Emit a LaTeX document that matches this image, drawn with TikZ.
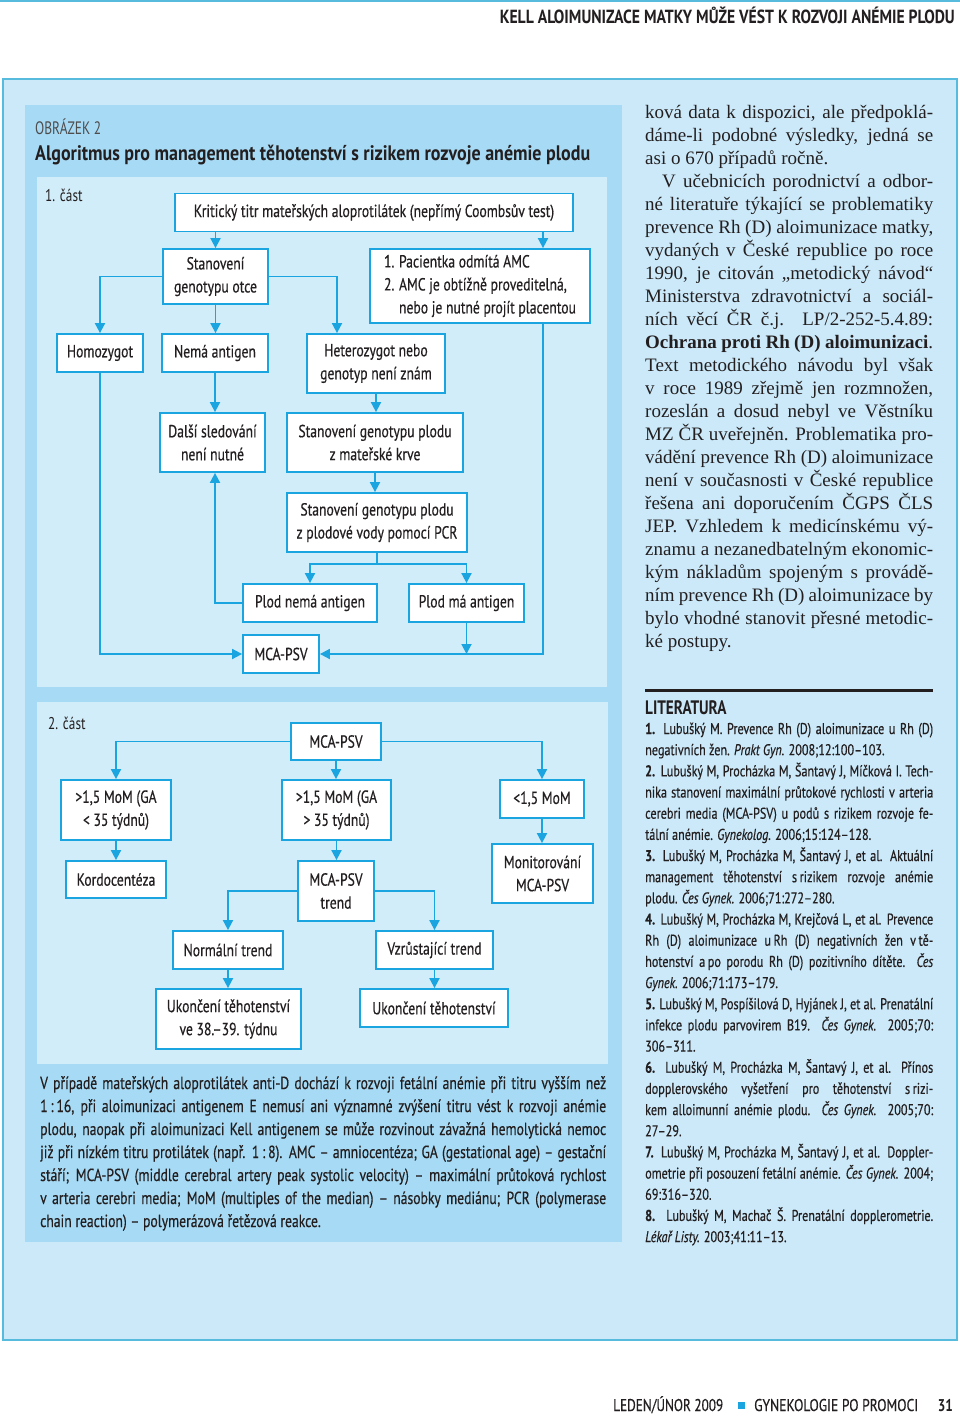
\documentclass[tikz,border=0pt]{standalone}
\usepackage{fontspec}
\usepackage{graphicx}
\usetikzlibrary{arrows.meta}
\newfontfamily\cond[FakeStretch=0.78]{PT Sans}
\newfontfamily\condm[FakeStretch=0.78,FakeBold=0.45]{PT Sans}
\newfontfamily\bodyserif{Liberation Serif}
\definecolor{pagefill}{HTML}{CBE9F9}
\definecolor{figfill}{HTML}{A7DBF5}
\definecolor{panelfill}{HTML}{D2EDFA}
\definecolor{frame}{HTML}{56BBDD}
\definecolor{boxline}{HTML}{1BA5E0}
\definecolor{ink}{HTML}{231F20}
\newcommand\jl[1]{\makebox[\linewidth][s]{#1}}
\newcommand\lastl[1]{\makebox[\linewidth][l]{#1}}

\begin{document}
\begin{tikzpicture}[x=1pt,y=-1pt,
  box/.style={draw=boxline,line width=1.8pt,fill=white,text=ink,align=center,
    inner sep=3pt,font=\condm\fontsize{17.5}{23}\selectfont},
  flow/.style={-{Triangle[length=10pt,width=10pt]},draw=boxline,line width=1.8pt},
  link/.style={draw=boxline,line width=1.8pt},
  plain/.style={inner sep=0pt,text=ink}
]
  \useasboundingbox (0,0) rectangle (960,1417);
  \fill[white] (0,0) rectangle (960,1417);
  \draw[frame,line width=2pt] (0,1) -- (960,1);
  \filldraw[fill=pagefill,draw=frame,line width=1.5pt] (3,79) rectangle (957,1340);
  \fill[figfill] (25,105) rectangle (622,1242);
  \fill[panelfill] (37,177) rectangle (607,687);
  \fill[panelfill] (37,702) rectangle (608,1064);

  % header and footer
  \node[plain,anchor=base east] (zahlavi) at (955,23.5)
    {\resizebox{455pt}{\height}{\cond\bfseries\fontsize{19}{20}\selectfont KELL ALOIMUNIZACE MATKY MŮŽE VÉST K ROZVOJI ANÉMIE PLODU}};
  \node[plain,anchor=base west] (datum) at (613,1411)
    {\resizebox{110pt}{\height}{\condm\fontsize{17}{20}\selectfont LEDEN/ÚNOR 2009}};
  \fill[boxline] (738,1402) rectangle (745,1409);
  \node[plain,anchor=base west] (casopis) at (754,1411)
    {\resizebox{164pt}{\height}{\condm\fontsize{17}{20}\selectfont GYNEKOLOGIE PO PROMOCI}};
  \node[plain,anchor=base east] (strana) at (953,1411) {\cond\bfseries\fontsize{17}{20}\selectfont 31};

  % figure heading
  \node[plain,anchor=base west,text=ink!80] (obr) at (35,134)
    {\resizebox{66pt}{\height}{\cond\fontsize{18}{20}\selectfont OBRÁZEK 2}};
  \node[plain,anchor=base west] (nadpis) at (35,160)
    {\resizebox{555pt}{\height}{\cond\bfseries\fontsize{21}{24}\selectfont Algoritmus pro management těhotenství s~rizikem rozvoje anémie plodu}};

  % part 1
  \node[plain,anchor=base west,font=\cond\fontsize{17}{20}\selectfont] (cast1) at (45,201) {1. část};
  \node[box,minimum width=398pt,minimum height=38pt] (titr) at (374,212.5)
    {Kritický titr mateřských aloprotilátek (nepřímý Coombsův test)};
  \node[box,minimum width=105pt,minimum height=55pt] (otec) at (215.5,276.5)
    {Stanovení\\genotypu otce};
  \node[box,minimum width=220pt,minimum height=74pt,align=left] (amc) at (480,286)
    {\makebox[15pt][l]{1.}Pacientka odmítá AMC\\
     \makebox[15pt][l]{2.}AMC je obtížně proveditelná,\\
     \hspace*{15pt}nebo je nutné projít placentou};
  \node[box,minimum width=86pt,minimum height=38pt] (homo) at (100,353) {Homozygot};
  \node[box,minimum width=106pt,minimum height=38pt] (nema) at (215,353) {Nemá antigen};
  \node[box,minimum width=138pt,minimum height=59pt] (hetero) at (376,363.5)
    {Heterozygot nebo\\genotyp není znám};
  \node[box,minimum width=105pt,minimum height=59pt] (dalsi) at (212.5,442.5)
    {Další sledování\\není nutné};
  \node[box,minimum width=176pt,minimum height=59pt] (krev) at (375,442.5)
    {Stanovení genotypu plodu\\z mateřské krve};
  \node[box,minimum width=180pt,minimum height=59pt] (pcr) at (377,522.5)
    {Stanovení genotypu plodu\\z plodové vody pomocí PCR};
  \node[box,minimum width=134pt,minimum height=38pt] (plodne) at (310,603) {Plod nemá antigen};
  \node[box,minimum width=115pt,minimum height=38pt] (plodano) at (466.5,603) {Plod má antigen};
  \node[box,minimum width=76pt,minimum height=38pt] (mca) at (281,654) {MCA-PSV};

  \coordinate (rline) at (543,0);
  \coordinate (hline) at (337,0);
  \draw[flow] (titr.south -| otec) -- (otec.north);
  \draw[flow] (titr.south -| rline) -- (amc.north -| rline);
  \draw[flow] (otec.west) -| (homo.north);
  \draw[flow] (otec.south) -- (otec.south |- nema.north);
  \draw[flow] (otec.east) -| (hetero.north -| hline);
  \draw[flow] (homo.south) |- (mca.west);
  \draw[flow] (nema.south) -- (nema.south |- dalsi.north);
  \draw[flow] (hetero.south) -- (hetero.south |- krev.north);
  \draw[flow] (krev.south) -- (krev.south |- pcr.north);
  \draw[link] (pcr.south) -- ++(0,11) coordinate (split);
  \draw[flow] (split) -| (plodne.north);
  \draw[flow] (split) -| (plodano.north);
  \draw[flow] (plodne.west) -| (dalsi.south -| nema.south);
  \draw[flow] (amc.south -| rline) |- (mca.east);
  \draw[flow] (plodano.south) -- (plodano.south |- mca.east);

  % part 2
  \node[plain,anchor=base west,font=\cond\fontsize{17}{20}\selectfont] (cast2) at (48,729) {2. část};
  \node[box,minimum width=90pt,minimum height=37pt] (mcb) at (336,741.5) {MCA-PSV};
  \node[box,minimum width=110pt,minimum height=60pt] (pod35) at (116,810)
    {>1,5 MoM (GA\\< 35 týdnů)};
  \node[box,minimum width=109pt,minimum height=60pt] (nad35) at (336.5,810)
    {>1,5 MoM (GA\\> 35 týdnů)};
  \node[box,minimum width=84pt,minimum height=38pt] (pod15) at (542,799) {<1,5 MoM};
  \node[box,minimum width=100pt,minimum height=37pt] (kordo) at (116,879.5) {Kordocentéza};
  \node[box,minimum width=76pt,minimum height=60pt] (trend) at (336,891) {MCA-PSV\\trend};
  \node[box,minimum width=101pt,minimum height=59pt] (monit) at (542.5,873.5)
    {Monitorování\\MCA-PSV};
  \node[box,minimum width=110pt,minimum height=38pt] (normal) at (228,950) {Normální trend};
  \node[box,minimum width=117pt,minimum height=38pt] (vzrust) at (434.5,950) {Vzrůstající trend};
  \node[box,minimum width=145pt,minimum height=60pt] (konec) at (228.5,1019)
    {Ukončení těhotenství\\ve 38.–39. týdnu};
  \node[box,minimum width=148pt,minimum height=38pt] (konecb) at (434,1008) {Ukončení těhotenství};

  \draw[flow] (mcb.west) -| (pod35.north);
  \draw[flow] (mcb.east) -| (pod15.north);
  \draw[flow] (mcb.south) -- (mcb.south |- nad35.north);
  \draw[flow] (nad35.south) -- (nad35.south |- trend.north);
  \draw[flow] (pod35.south) -- (pod35.south |- kordo.north);
  \draw[flow] (pod15.south) -- (pod15.south |- monit.north);
  \draw[flow] (trend.west) -| (normal.north);
  \draw[flow] (trend.east) -| (vzrust.north);
  \draw[flow] (normal.south) -- (normal.south |- konec.north);
  \draw[flow] (vzrust.south) -- (vzrust.south |- konecb.north);

  % legend under the figure
  \node[plain,anchor=base west] (popis) at (40,1089)
    {\parbox[t]{566pt}{\condm\fontsize{17.5}{23}\selectfont
     \jl{V případě mateřských aloprotilátek anti-D dochází k rozvoji fetální anémie při titru vyšším než}\\
     \jl{1\,:\,16, při aloimunizaci antigenem E nemusí ani významné zvýšení titru vést k rozvoji anémie}\\
     \jl{plodu, naopak při aloimunizaci Kell antigenem se může rozvinout závažná hemolytická nemoc}\\
     \jl{již při nízkém titru protilátek (např. 1\,:\,8). AMC – amniocentéza; GA (gestational age) – gestační}\\
     \jl{stáří; MCA-PSV (middle cerebral artery peak systolic velocity) – maximální průtoková rychlost}\\
     \jl{v arteria cerebri media; MoM (multiples of the median) – násobky mediánu; PCR (polymerase}\\
     \lastl{chain reaction) – polymerázová řetězová reakce.}}};

  % article column
  \node[plain,anchor=base west] (clanek) at (645,118)
    {\parbox[t]{288pt}{\bodyserif\fontsize{19}{23}\selectfont
     \jl{ková data k dispozici, ale předpoklá-}\\
     \jl{dáme-li podobné výsledky, jedná se}\\
     \lastl{asi o 670 případů ročně.}\\
     \jl{\hspace*{17pt}V učebnicích porodnictví a odbor-}\\
     \jl{né literatuře týkající se problematiky}\\
     \jl{prevence Rh (D) aloimunizace matky,}\\
     \jl{vydaných v České republice po roce}\\
     \jl{1990, je citován „metodický návod“}\\
     \jl{Ministerstva zdravotnictví a sociál-}\\
     \jl{ních věcí ČR č.j. LP/2-252-5.4.89:}\\
     \jl{\textbf{Ochrana proti Rh (D) aloimunizaci}.}\\
     \jl{Text metodického návodu byl však}\\
     \jl{v roce 1989 zřejmě jen rozmnožen,}\\
     \jl{rozeslán a dosud nebyl ve Věstníku}\\
     \jl{MZ ČR uveřejněn. Problematika pro-}\\
     \jl{vádění prevence Rh (D) aloimunizace}\\
     \jl{není v současnosti v České republice}\\
     \jl{řešena ani doporučením ČGPS ČLS}\\
     \jl{JEP. Vzhledem k medicínskému vý-}\\
     \jl{znamu a nezanedbatelným ekonomic-}\\
     \jl{kým nákladům spojeným s provádě-}\\
     \jl{ním prevence Rh (D) aloimunizace by}\\
     \jl{bylo vhodné stanovit přesné metodic-}\\
     \lastl{ké postupy.}}};

  % references
  \draw[ink,line width=3pt] (645,690) -- (933,690);
  \node[plain,anchor=base west] (lit) at (645,714)
    {\cond\bfseries\fontsize{19.5}{20}\selectfont LITERATURA};
  \node[plain,anchor=base west] (zdroje) at (645,734)
    {\parbox[t]{288pt}{\condm\fontsize{15.6}{21.17}\selectfont
     \jl{\textbf{1.} Lubušký M. Prevence Rh (D) aloimunizace u Rh (D)}\\
     \lastl{negativních žen. \textit{Prakt Gyn.} 2008;12:100–103.}\\
     \jl{\textbf{2.} Lubušký M, Procházka M, Šantavý J, Míčková I. Tech-}\\
     \jl{nika stanovení maximální průtokové rychlosti v arteria}\\
     \jl{cerebri media (MCA-PSV) u podů s rizikem rozvoje fe-}\\
     \lastl{tální anémie. \textit{Gynekolog.} 2006;15:124–128.}\\
     \jl{\textbf{3.} Lubušký M, Procházka M, Šantavý J, et al. Aktuální}\\
     \jl{management těhotenství s\,rizikem rozvoje anémie}\\
     \lastl{plodu. \textit{Čes Gynek.} 2006;71:272–280.}\\
     \jl{\textbf{4.} Lubušký M, Procházka M, Krejčová L, et al. Prevence}\\
     \jl{Rh (D) aloimunizace u\,Rh (D) negativních žen v\,tě-}\\
     \jl{hotenství a\,po porodu Rh (D) pozitivního dítěte. \textit{Čes}}\\
     \lastl{\textit{Gynek.} 2006;71:173–179.}\\
     \jl{\textbf{5.} Lubušký M, Pospíšilová D, Hyjánek J, et al. Prenatální}\\
     \jl{infekce plodu parvovirem B19. \textit{Čes Gynek.} 2005;70:}\\
     \lastl{306–311.}\\
     \jl{\textbf{6.} Lubušký M, Procházka M, Šantavý J, et al. Přínos}\\
     \jl{dopplerovského vyšetření pro těhotenství s\,rizi-}\\
     \jl{kem alloimunní anémie plodu. \textit{Čes Gynek.} 2005;70:}\\
     \lastl{27–29.}\\
     \jl{\textbf{7.} Lubušký M, Procházka M, Šantavý J, et al. Doppler-}\\
     \jl{ometrie při posouzení fetální anémie. \textit{Čes Gynek.} 2004;}\\
     \lastl{69:316–320.}\\
     \jl{\textbf{8.} Lubušký M, Machač Š. Prenatální dopplerometrie.}\\
     \lastl{\textit{Lékař Listy.} 2003;41:11–13.}}};
\end{tikzpicture}
\end{document}
